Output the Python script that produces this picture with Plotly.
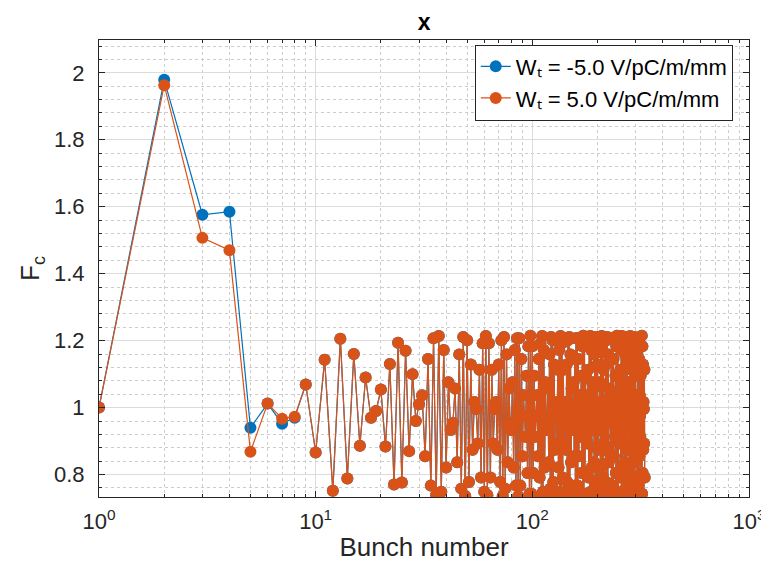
import plotly.graph_objects as go

# ---------------- data ----------------
fc_head_blue = [1.0, 1.979, 1.576, 1.585, 0.94, 1.012, 0.952, 0.97]
fc_head_orange = [1.0, 1.963, 1.507, 1.47, 0.868, 1.012, 0.967, 0.973]
fc_mid = [1.069, 0.866, 1.143, 0.752, 1.206, 0.788, 1.16, 0.886, 1.09, 0.97, 0.99,
          1.054, 0.884, 1.13, 0.77, 1.194, 0.776, 1.17, 0.87, 1.10, 0.96, 1.01]
fc_tail = [
    1.037, 0.855, 1.145, 0.767, 1.207,
    0.739, 1.214, 0.749, 1.172, 0.821, 1.076, 0.933, 0.954, 1.057, 0.837, 1.159, 0.758,
    1.211, 0.736, 1.201, 0.778, 1.129, 0.874, 1.017, 0.996, 0.893, 1.113, 0.791, 1.192,
    0.749, 1.214, 0.739, 1.192, 0.791, 1.113, 0.893, 0.996, 1.017, 0.874, 1.129, 0.778,
    1.201, 0.736, 1.211, 0.758, 1.159, 0.837, 1.057, 0.954, 0.933, 1.076, 0.821, 1.172,
    0.767, 1.207, 0.735, 1.207, 0.767, 1.145, 0.855, 1.037, 0.975, 0.913, 1.095, 0.805,
    1.183, 0.743, 1.215, 0.743, 1.183, 0.805, 1.095, 0.913, 0.975, 1.037, 0.855, 1.145,
    0.791, 1.192, 0.739, 1.214, 0.749, 1.172, 0.821, 1.076, 0.933, 0.954, 1.057, 0.837,
    1.159, 0.758, 1.211, 0.736, 1.201, 0.778, 1.129, 0.874, 1.017, 0.996, 0.893, 1.113,
    0.821, 1.172, 0.749, 1.214, 0.739, 1.192, 0.791, 1.113, 0.893, 0.996, 1.017, 0.874,
    1.129, 0.778, 1.201, 0.736, 1.211, 0.758, 1.159, 0.837, 1.057, 0.954, 0.933, 1.076,
    0.855, 1.145, 0.767, 1.207, 0.735, 1.207, 0.767, 1.145, 0.855, 1.037, 0.975, 0.913,
    1.095, 0.805, 1.183, 0.743, 1.215, 0.743, 1.183, 0.805, 1.095, 0.913, 0.975, 1.037,
    0.893, 1.113, 0.791, 1.192, 0.739, 1.214, 0.749, 1.172, 0.821, 1.076, 0.933, 0.954,
    1.057, 0.837, 1.159, 0.758, 1.211, 0.736, 1.201, 0.778, 1.129, 0.874, 1.017, 0.996,
    0.933, 1.076, 0.821, 1.172, 0.749, 1.214, 0.739, 1.192, 0.791, 1.113, 0.893, 0.996,
    1.017, 0.874, 1.129, 0.778, 1.201, 0.736, 1.211, 0.758, 1.159, 0.837, 1.057, 0.954,
    0.975, 1.037, 0.855, 1.145, 0.767, 1.207, 0.735, 1.207, 0.767, 1.145, 0.855, 1.037,
    0.975, 0.913, 1.095, 0.805, 1.183, 0.743, 1.215, 0.743, 1.183, 0.805, 1.095, 0.913,
    1.017, 0.996, 0.893, 1.113, 0.791, 1.192, 0.739, 1.214, 0.749, 1.172, 0.821, 1.076,
    0.933, 0.954, 1.057, 0.837, 1.159, 0.758, 1.211, 0.736, 1.201, 0.778, 1.129, 0.874,
    1.057, 0.954, 0.933, 1.076, 0.821, 1.172, 0.749, 1.214, 0.739, 1.192, 0.791, 1.113,
    0.893, 0.996, 1.017, 0.874, 1.129, 0.778, 1.201, 0.736, 1.211, 0.758, 1.159, 0.837,
    1.095, 0.913, 0.975, 1.037, 0.855, 1.145, 0.767, 1.207, 0.735, 1.207, 0.767, 1.145,
    0.855, 1.037, 0.975, 0.913, 1.095, 0.805, 1.183, 0.743, 1.215, 0.743, 1.183, 0.805,
    1.129, 0.874, 1.017, 0.996, 0.893, 1.113, 0.791,
]
fc_blue = fc_head_blue + fc_mid + fc_tail
fc_orange = fc_head_orange + fc_mid + fc_tail
bunch = list(range(1, len(fc_blue) + 1))

series_names = ["Wₜ = -5.0 V/pC/m/mm", "Wₜ = 5.0 V/pC/m/mm"]
x_tickvals = [1, 10, 100, 1000]
x_ticktext = ["10<sup>0</sup>", "10<sup>1</sup>", "10<sup>2</sup>", "10<sup>3</sup>"]
y_tickvals = [0.8, 1.0, 1.2, 1.4, 1.6, 1.8, 2.0]
y_ticktext = ["0.8", "1", "1.2", "1.4", "1.6", "1.8", "2"]

BLUE = "#0072BD"
ORANGE = "#D95319"
AX = "#262626"
FONT = "Liberation Sans"

fig = go.Figure()
for yv, name, col in [(fc_blue, series_names[0], BLUE), (fc_orange, series_names[1], ORANGE)]:
    fig.add_trace(go.Scatter(
        x=bunch, y=yv, mode="lines+markers", name=name,
        line=dict(color=col, width=1.2),
        marker=dict(color=col, size=12),
    ))

# the page body adds an 8px offset, so margins are shifted accordingly
fig.update_layout(
    width=769, height=575,
    margin=dict(l=91, r=28, t=32, b=86, autoexpand=False),
    paper_bgcolor="white", plot_bgcolor="white",
    font=dict(family=FONT, color=AX, size=22),
    title=dict(text="<b>x</b>", x=0.541, xanchor="center", y=0.976, yanchor="middle",
               font=dict(size=23, color="black")),
    legend=dict(x=0.975, y=0.99, xanchor="right", yanchor="top",
                bgcolor="white", bordercolor=AX, borderwidth=1,
                font=dict(size=22, color="black"), tracegroupgap=0,
                itemwidth=30),
    showlegend=True,
)
fig.update_xaxes(
    type="log", range=[0, 3], automargin=False,
    tickvals=x_tickvals, ticktext=x_ticktext,
    ticks="inside", ticklen=6, tickcolor=AX, ticklabelstandoff=5,
    showline=True, linecolor=AX, linewidth=1, mirror="ticks",
    showgrid=True, gridcolor="#dcdcdc", gridwidth=1,
    minor=dict(dtick="D1", showgrid=True, gridcolor="#cccccc", griddash="dot",
               ticks="inside", ticklen=3, tickcolor=AX),
    zeroline=False,
    title=dict(text="Bunch number", font=dict(size=26, color=AX), standoff=4),
)
fig.update_yaxes(
    range=[0.733, 2.098], automargin=False,
    tickvals=y_tickvals, ticktext=y_ticktext,
    ticks="inside", ticklen=6, tickcolor=AX, ticklabelstandoff=9,
    showline=True, linecolor=AX, linewidth=1, mirror="ticks",
    showgrid=True, gridcolor="#dcdcdc", gridwidth=1,
    minor=dict(dtick=0.04, tick0=0.8, showgrid=True, gridcolor="#cccccc", griddash="dot",
               ticks="inside", ticklen=3, tickcolor=AX),
    zeroline=False,
    title=dict(text="F<sub>c</sub>", font=dict(size=26, color=AX), standoff=6),
)

fig.write_html("out.html")
